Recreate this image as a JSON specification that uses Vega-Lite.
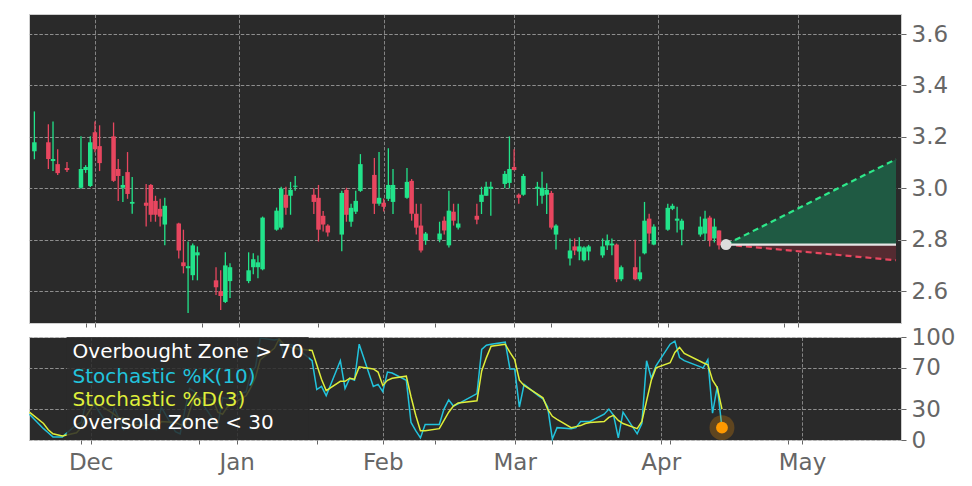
{
  "$schema": "https://vega.github.io/schema/vega-lite/v6.json",
  "background": "#ffffff",
  "padding": {"left": 25, "top": 13, "right": 5, "bottom": 5},
  "spacing": 14,
  "bounds": "flush",
  "datasets": {
    "px": [
      {"d": "2022-11-18", "o": 3.144, "h": 3.299, "l": 3.113, "c": 3.179},
      {"d": "2022-11-21", "o": 3.179, "h": 3.249, "l": 3.075, "c": 3.114},
      {"d": "2022-11-22", "o": 3.106, "h": 3.260, "l": 3.067, "c": 3.114},
      {"d": "2022-11-23", "o": 3.094, "h": 3.152, "l": 3.052, "c": 3.059},
      {"d": "2022-11-25", "o": 3.079, "h": 3.102, "l": 3.063, "c": 3.071},
      {"d": "2022-11-28", "o": 3.002, "h": 3.202, "l": 2.998, "c": 3.075},
      {"d": "2022-11-29", "o": 3.071, "h": 3.090, "l": 3.060, "c": 3.083},
      {"d": "2022-11-30", "o": 3.009, "h": 3.202, "l": 3.005, "c": 3.179},
      {"d": "2022-12-01", "o": 3.218, "h": 3.260, "l": 3.140, "c": 3.152},
      {"d": "2022-12-02", "o": 3.164, "h": 3.245, "l": 3.067, "c": 3.098},
      {"d": "2022-12-05", "o": 3.202, "h": 3.256, "l": 3.025, "c": 3.029},
      {"d": "2022-12-06", "o": 3.075, "h": 3.114, "l": 2.951, "c": 3.048},
      {"d": "2022-12-07", "o": 3.002, "h": 3.048, "l": 2.947, "c": 3.013},
      {"d": "2022-12-08", "o": 3.063, "h": 3.141, "l": 2.959, "c": 2.978},
      {"d": "2022-12-09", "o": 2.940, "h": 3.044, "l": 2.901, "c": 2.947},
      {"d": "2022-12-12", "o": 2.944, "h": 3.017, "l": 2.851, "c": 2.932},
      {"d": "2022-12-13", "o": 3.013, "h": 3.017, "l": 2.870, "c": 2.897},
      {"d": "2022-12-14", "o": 2.951, "h": 2.971, "l": 2.870, "c": 2.897},
      {"d": "2022-12-15", "o": 2.920, "h": 2.959, "l": 2.851, "c": 2.890},
      {"d": "2022-12-16", "o": 2.859, "h": 2.963, "l": 2.778, "c": 2.932},
      {"d": "2022-12-19", "o": 2.863, "h": 2.866, "l": 2.727, "c": 2.758},
      {"d": "2022-12-20", "o": 2.712, "h": 2.839, "l": 2.669, "c": 2.697},
      {"d": "2022-12-21", "o": 2.689, "h": 2.793, "l": 2.515, "c": 2.697},
      {"d": "2022-12-22", "o": 2.662, "h": 2.785, "l": 2.642, "c": 2.778},
      {"d": "2022-12-23", "o": 2.739, "h": 2.774, "l": 2.642, "c": 2.751},
      {"d": "2022-12-27", "o": 2.642, "h": 2.693, "l": 2.585, "c": 2.615},
      {"d": "2022-12-28", "o": 2.600, "h": 2.681, "l": 2.527, "c": 2.581},
      {"d": "2022-12-29", "o": 2.558, "h": 2.751, "l": 2.554, "c": 2.700},
      {"d": "2022-12-30", "o": 2.639, "h": 2.708, "l": 2.573, "c": 2.693},
      {"d": "2023-01-03", "o": 2.639, "h": 2.751, "l": 2.631, "c": 2.681},
      {"d": "2023-01-04", "o": 2.693, "h": 2.747, "l": 2.666, "c": 2.724},
      {"d": "2023-01-05", "o": 2.693, "h": 2.739, "l": 2.650, "c": 2.712},
      {"d": "2023-01-06", "o": 2.685, "h": 2.890, "l": 2.681, "c": 2.886},
      {"d": "2023-01-09", "o": 2.839, "h": 2.925, "l": 2.835, "c": 2.913},
      {"d": "2023-01-10", "o": 2.847, "h": 3.006, "l": 2.840, "c": 2.999},
      {"d": "2023-01-11", "o": 2.975, "h": 3.006, "l": 2.897, "c": 2.924},
      {"d": "2023-01-12", "o": 2.971, "h": 3.025, "l": 2.897, "c": 2.994},
      {"d": "2023-01-13", "o": 3.006, "h": 3.048, "l": 2.990, "c": 3.010},
      {"d": "2023-01-17", "o": 2.975, "h": 3.000, "l": 2.900, "c": 2.947},
      {"d": "2023-01-18", "o": 2.963, "h": 3.013, "l": 2.793, "c": 2.839},
      {"d": "2023-01-19", "o": 2.893, "h": 2.912, "l": 2.832, "c": 2.859},
      {"d": "2023-01-20", "o": 2.855, "h": 2.860, "l": 2.812, "c": 2.828},
      {"d": "2023-01-23", "o": 2.820, "h": 2.990, "l": 2.755, "c": 2.982},
      {"d": "2023-01-24", "o": 2.994, "h": 3.002, "l": 2.870, "c": 2.897},
      {"d": "2023-01-25", "o": 2.870, "h": 2.940, "l": 2.850, "c": 2.924},
      {"d": "2023-01-26", "o": 2.909, "h": 2.990, "l": 2.900, "c": 2.951},
      {"d": "2023-01-27", "o": 2.990, "h": 3.133, "l": 2.986, "c": 3.094},
      {"d": "2023-01-30", "o": 3.052, "h": 3.118, "l": 2.900, "c": 2.940},
      {"d": "2023-01-31", "o": 2.940, "h": 3.141, "l": 2.932, "c": 2.963},
      {"d": "2023-02-01", "o": 2.944, "h": 2.960, "l": 2.910, "c": 2.928},
      {"d": "2023-02-02", "o": 2.959, "h": 3.156, "l": 2.951, "c": 3.013},
      {"d": "2023-02-03", "o": 2.947, "h": 3.075, "l": 2.900, "c": 3.013},
      {"d": "2023-02-06", "o": 2.963, "h": 3.079, "l": 2.959, "c": 3.025},
      {"d": "2023-02-07", "o": 3.029, "h": 3.036, "l": 2.874, "c": 2.901},
      {"d": "2023-02-08", "o": 2.901, "h": 2.940, "l": 2.820, "c": 2.847},
      {"d": "2023-02-09", "o": 2.855, "h": 2.940, "l": 2.750, "c": 2.758},
      {"d": "2023-02-10", "o": 2.797, "h": 2.830, "l": 2.780, "c": 2.824},
      {"d": "2023-02-13", "o": 2.800, "h": 2.870, "l": 2.790, "c": 2.824},
      {"d": "2023-02-14", "o": 2.874, "h": 2.890, "l": 2.820, "c": 2.836},
      {"d": "2023-02-15", "o": 2.778, "h": 2.990, "l": 2.770, "c": 2.913},
      {"d": "2023-02-16", "o": 2.909, "h": 2.940, "l": 2.855, "c": 2.874},
      {"d": "2023-02-17", "o": 2.847, "h": 2.940, "l": 2.840, "c": 2.863},
      {"d": "2023-02-21", "o": 2.893, "h": 2.940, "l": 2.860, "c": 2.878},
      {"d": "2023-02-22", "o": 2.947, "h": 3.006, "l": 2.900, "c": 2.975},
      {"d": "2023-02-23", "o": 2.971, "h": 3.025, "l": 2.971, "c": 3.006},
      {"d": "2023-02-24", "o": 2.998, "h": 3.025, "l": 2.893, "c": 3.006},
      {"d": "2023-02-27", "o": 3.017, "h": 3.067, "l": 3.000, "c": 3.056},
      {"d": "2023-02-28", "o": 3.021, "h": 3.202, "l": 3.000, "c": 3.075},
      {"d": "2023-03-01", "o": 3.083, "h": 3.152, "l": 3.070, "c": 3.071},
      {"d": "2023-03-02", "o": 2.975, "h": 2.980, "l": 2.940, "c": 2.963},
      {"d": "2023-03-03", "o": 2.975, "h": 3.056, "l": 2.971, "c": 3.048},
      {"d": "2023-03-06", "o": 2.998, "h": 3.025, "l": 2.932, "c": 3.006},
      {"d": "2023-03-07", "o": 2.971, "h": 3.064, "l": 2.940, "c": 3.002},
      {"d": "2023-03-08", "o": 2.975, "h": 3.020, "l": 2.900, "c": 2.994},
      {"d": "2023-03-09", "o": 2.982, "h": 2.990, "l": 2.840, "c": 2.847},
      {"d": "2023-03-10", "o": 2.820, "h": 2.860, "l": 2.762, "c": 2.855},
      {"d": "2023-03-13", "o": 2.727, "h": 2.805, "l": 2.700, "c": 2.758},
      {"d": "2023-03-14", "o": 2.774, "h": 2.805, "l": 2.740, "c": 2.758},
      {"d": "2023-03-15", "o": 2.754, "h": 2.810, "l": 2.720, "c": 2.774},
      {"d": "2023-03-16", "o": 2.720, "h": 2.775, "l": 2.715, "c": 2.770},
      {"d": "2023-03-17", "o": 2.754, "h": 2.780, "l": 2.720, "c": 2.774},
      {"d": "2023-03-20", "o": 2.739, "h": 2.805, "l": 2.730, "c": 2.774},
      {"d": "2023-03-21", "o": 2.778, "h": 2.820, "l": 2.760, "c": 2.797},
      {"d": "2023-03-22", "o": 2.778, "h": 2.805, "l": 2.740, "c": 2.785},
      {"d": "2023-03-23", "o": 2.781, "h": 2.785, "l": 2.635, "c": 2.646},
      {"d": "2023-03-24", "o": 2.646, "h": 2.700, "l": 2.638, "c": 2.693},
      {"d": "2023-03-27", "o": 2.693, "h": 2.800, "l": 2.642, "c": 2.646},
      {"d": "2023-03-28", "o": 2.646, "h": 2.735, "l": 2.638, "c": 2.673},
      {"d": "2023-03-29", "o": 2.747, "h": 2.947, "l": 2.743, "c": 2.874},
      {"d": "2023-03-30", "o": 2.882, "h": 2.901, "l": 2.785, "c": 2.824},
      {"d": "2023-03-31", "o": 2.781, "h": 2.860, "l": 2.778, "c": 2.851},
      {"d": "2023-04-03", "o": 2.839, "h": 2.940, "l": 2.835, "c": 2.924},
      {"d": "2023-04-04", "o": 2.920, "h": 2.940, "l": 2.915, "c": 2.932},
      {"d": "2023-04-05", "o": 2.874, "h": 2.928, "l": 2.828, "c": 2.882},
      {"d": "2023-04-06", "o": 2.839, "h": 2.882, "l": 2.778, "c": 2.874},
      {"d": "2023-04-10", "o": 2.820, "h": 2.890, "l": 2.812, "c": 2.851},
      {"d": "2023-04-11", "o": 2.824, "h": 2.913, "l": 2.797, "c": 2.882},
      {"d": "2023-04-12", "o": 2.886, "h": 2.893, "l": 2.774, "c": 2.797},
      {"d": "2023-04-13", "o": 2.805, "h": 2.882, "l": 2.789, "c": 2.851},
      {"d": "2023-04-14", "o": 2.836, "h": 2.836, "l": 2.762, "c": 2.778}
    ],
    "st": [
      {"d": "2022-11-18", "k": 25, "dv": 27},
      {"d": "2022-11-21", "k": 11, "dv": 16},
      {"d": "2022-11-22", "k": 7, "dv": 10},
      {"d": "2022-11-23", "k": 3, "dv": 6},
      {"d": "2022-11-25", "k": 3, "dv": 4},
      {"d": "2022-11-28", "k": 15, "dv": 7},
      {"d": "2022-11-29", "k": 17, "dv": 12},
      {"d": "2022-11-30", "k": 36, "dv": 23},
      {"d": "2022-12-01", "k": 38, "dv": 30},
      {"d": "2022-12-02", "k": 33, "dv": 36},
      {"d": "2022-12-05", "k": 12, "dv": 28},
      {"d": "2022-12-06", "k": 31, "dv": 25},
      {"d": "2022-12-07", "k": 21, "dv": 21},
      {"d": "2022-12-08", "k": 10, "dv": 21},
      {"d": "2022-12-09", "k": 13, "dv": 15},
      {"d": "2022-12-12", "k": 20, "dv": 14},
      {"d": "2022-12-13", "k": 11, "dv": 15},
      {"d": "2022-12-14", "k": 11, "dv": 14},
      {"d": "2022-12-15", "k": 10, "dv": 11},
      {"d": "2022-12-16", "k": 32, "dv": 18},
      {"d": "2022-12-19", "k": 8, "dv": 17},
      {"d": "2022-12-20", "k": 6, "dv": 15},
      {"d": "2022-12-21", "k": 29, "dv": 14},
      {"d": "2022-12-22", "k": 50, "dv": 28},
      {"d": "2022-12-23", "k": 47, "dv": 42},
      {"d": "2022-12-27", "k": 20, "dv": 39},
      {"d": "2022-12-28", "k": 14, "dv": 27},
      {"d": "2022-12-29", "k": 41, "dv": 25},
      {"d": "2022-12-30", "k": 40, "dv": 32},
      {"d": "2023-01-03", "k": 47, "dv": 43},
      {"d": "2023-01-04", "k": 65, "dv": 51},
      {"d": "2023-01-05", "k": 71, "dv": 61},
      {"d": "2023-01-06", "k": 99, "dv": 78},
      {"d": "2023-01-09", "k": 97, "dv": 89},
      {"d": "2023-01-10", "k": 98, "dv": 98},
      {"d": "2023-01-11", "k": 83, "dv": 93},
      {"d": "2023-01-12", "k": 93, "dv": 91},
      {"d": "2023-01-13", "k": 92, "dv": 89},
      {"d": "2023-01-17", "k": 77, "dv": 87},
      {"d": "2023-01-18", "k": 49, "dv": 73},
      {"d": "2023-01-19", "k": 52, "dv": 59},
      {"d": "2023-01-20", "k": 43, "dv": 48},
      {"d": "2023-01-23", "k": 77, "dv": 57},
      {"d": "2023-01-24", "k": 50, "dv": 57},
      {"d": "2023-01-25", "k": 60, "dv": 60},
      {"d": "2023-01-26", "k": 58, "dv": 59},
      {"d": "2023-01-27", "k": 93, "dv": 71},
      {"d": "2023-01-30", "k": 52, "dv": 69},
      {"d": "2023-01-31", "k": 54, "dv": 66},
      {"d": "2023-02-01", "k": 47, "dv": 53},
      {"d": "2023-02-02", "k": 66, "dv": 58},
      {"d": "2023-02-03", "k": 65, "dv": 60},
      {"d": "2023-02-06", "k": 58, "dv": 62},
      {"d": "2023-02-07", "k": 17, "dv": 42},
      {"d": "2023-02-08", "k": 9, "dv": 24},
      {"d": "2023-02-09", "k": 2, "dv": 9},
      {"d": "2023-02-10", "k": 15, "dv": 9},
      {"d": "2023-02-13", "k": 15, "dv": 11},
      {"d": "2023-02-14", "k": 30, "dv": 19},
      {"d": "2023-02-15", "k": 39, "dv": 27},
      {"d": "2023-02-16", "k": 33, "dv": 33},
      {"d": "2023-02-17", "k": 35, "dv": 36},
      {"d": "2023-02-21", "k": 45, "dv": 38},
      {"d": "2023-02-22", "k": 88, "dv": 67},
      {"d": "2023-02-23", "k": 92, "dv": 80},
      {"d": "2023-02-24", "k": 93, "dv": 91},
      {"d": "2023-02-27", "k": 95, "dv": 93},
      {"d": "2023-02-28", "k": 69, "dv": 85},
      {"d": "2023-03-01", "k": 69, "dv": 78},
      {"d": "2023-03-02", "k": 32, "dv": 58},
      {"d": "2023-03-03", "k": 54, "dv": 53},
      {"d": "2023-03-06", "k": 43, "dv": 44},
      {"d": "2023-03-07", "k": 40, "dv": 41},
      {"d": "2023-03-08", "k": 32, "dv": 30},
      {"d": "2023-03-09", "k": 1, "dv": 23},
      {"d": "2023-03-10", "k": 12, "dv": 20},
      {"d": "2023-03-13", "k": 11, "dv": 12},
      {"d": "2023-03-14", "k": 12, "dv": 13},
      {"d": "2023-03-15", "k": 18, "dv": 14},
      {"d": "2023-03-16", "k": 18, "dv": 16},
      {"d": "2023-03-17", "k": 18, "dv": 17},
      {"d": "2023-03-20", "k": 25, "dv": 18},
      {"d": "2023-03-21", "k": 30, "dv": 22},
      {"d": "2023-03-22", "k": 24, "dv": 24},
      {"d": "2023-03-23", "k": 2, "dv": 19},
      {"d": "2023-03-24", "k": 27, "dv": 16},
      {"d": "2023-03-27", "k": 6, "dv": 11},
      {"d": "2023-03-28", "k": 16, "dv": 18},
      {"d": "2023-03-29", "k": 77, "dv": 38},
      {"d": "2023-03-30", "k": 60, "dv": 58},
      {"d": "2023-03-31", "k": 72, "dv": 70},
      {"d": "2023-04-03", "k": 93, "dv": 75},
      {"d": "2023-04-04", "k": 96, "dv": 85},
      {"d": "2023-04-05", "k": 80, "dv": 90},
      {"d": "2023-04-06", "k": 77, "dv": 84},
      {"d": "2023-04-10", "k": 70, "dv": 75},
      {"d": "2023-04-11", "k": 78, "dv": 73},
      {"d": "2023-04-12", "k": 26, "dv": 58},
      {"d": "2023-04-13", "k": 52, "dv": 51},
      {"d": "2023-04-14", "k": 12, "dv": 30}
    ],
    "fc": [
      {"d": "2023-04-15T12:00:00Z", "up": 2.781, "mid": 2.781, "dn": 2.781},
      {"d": "2023-05-22T00:00:00Z", "up": 3.113, "mid": 2.781, "dn": 2.720}
    ]
  },
  "vconcat": [
    {
      "width": 872,
      "height": 309,
      "layer": [
        {
          "data": {"name": "px"},
          "mark": {"type": "rule", "strokeWidth": 1.3, "clip": true},
          "encoding": {
            "x": {"field": "d", "type": "temporal", "title": null,
              "scale": {"type": "utc", "domain": [{"year": 2022, "month": 11, "date": 17, "hours": 22, "utc": true}, {"year": 2023, "month": 5, "date": 22, "hours": 0, "utc": true}]},
              "axis": {"labels": false, "tickSize": 4, "grid": true, "gridOpacity": {"condition": {"test": "utcdate(datum.value) == 1", "value": 0.9}, "value": 0}, "values": [{"year": 2022, "month": 11, "date": 29, "utc": true}, {"year": 2022, "month": 12, "date": 1, "utc": true}, {"year": 2022, "month": 12, "date": 24, "utc": true}, {"year": 2023, "month": 1, "date": 1, "utc": true}, {"year": 2023, "month": 1, "date": 18, "utc": true}, {"year": 2023, "month": 2, "date": 1, "utc": true}, {"year": 2023, "month": 2, "date": 12, "utc": true}, {"year": 2023, "month": 3, "date": 1, "utc": true}, {"year": 2023, "month": 3, "date": 9, "utc": true}, {"year": 2023, "month": 4, "date": 1, "utc": true}, {"year": 2023, "month": 4, "date": 3, "utc": true}, {"year": 2023, "month": 4, "date": 28, "utc": true}, {"year": 2023, "month": 5, "date": 1, "utc": true}]}},
            "y": {"field": "l", "type": "quantitative", "title": null,
              "scale": {"domain": [2.476, 3.678], "nice": false, "zero": false},
              "axis": {"orient": "right", "values": [2.6, 2.8, 3.0, 3.2, 3.4, 3.6], "format": ".1f", "tickSize": 5, "labelPadding": 5}},
            "y2": {"field": "h"},
            "color": {"condition": {"test": "datum.c >= datum.o", "value": "#22e38a"}, "value": "#e8465f"}
          }
        },
        {
          "data": {"name": "px"},
          "mark": {"type": "bar", "size": 4.5, "clip": true},
          "encoding": {
            "x": {"field": "d", "type": "temporal", "title": null,
              "axis": {"labels": false, "tickSize": 4, "grid": true, "gridOpacity": {"condition": {"test": "utcdate(datum.value) == 1", "value": 0.9}, "value": 0}, "values": [{"year": 2022, "month": 11, "date": 29, "utc": true}, {"year": 2022, "month": 12, "date": 1, "utc": true}, {"year": 2022, "month": 12, "date": 24, "utc": true}, {"year": 2023, "month": 1, "date": 1, "utc": true}, {"year": 2023, "month": 1, "date": 18, "utc": true}, {"year": 2023, "month": 2, "date": 1, "utc": true}, {"year": 2023, "month": 2, "date": 12, "utc": true}, {"year": 2023, "month": 3, "date": 1, "utc": true}, {"year": 2023, "month": 3, "date": 9, "utc": true}, {"year": 2023, "month": 4, "date": 1, "utc": true}, {"year": 2023, "month": 4, "date": 3, "utc": true}, {"year": 2023, "month": 4, "date": 28, "utc": true}, {"year": 2023, "month": 5, "date": 1, "utc": true}]}},
            "y": {"field": "o", "type": "quantitative", "title": null,
              "axis": {"orient": "right", "values": [2.6, 2.8, 3.0, 3.2, 3.4, 3.6], "format": ".1f", "tickSize": 5, "labelPadding": 5}},
            "y2": {"field": "c"},
            "color": {"condition": {"test": "datum.c >= datum.o", "value": "#22e38a"}, "value": "#e8465f"}
          }
        },
        {
          "data": {"name": "fc"},
          "mark": {"type": "area", "color": "#1f5a43", "opacity": 1},
          "encoding": {
            "x": {"field": "d", "type": "temporal", "title": null,
              "axis": {"labels": false, "tickSize": 4, "grid": true, "gridOpacity": {"condition": {"test": "utcdate(datum.value) == 1", "value": 0.9}, "value": 0}, "values": [{"year": 2022, "month": 11, "date": 29, "utc": true}, {"year": 2022, "month": 12, "date": 1, "utc": true}, {"year": 2022, "month": 12, "date": 24, "utc": true}, {"year": 2023, "month": 1, "date": 1, "utc": true}, {"year": 2023, "month": 1, "date": 18, "utc": true}, {"year": 2023, "month": 2, "date": 1, "utc": true}, {"year": 2023, "month": 2, "date": 12, "utc": true}, {"year": 2023, "month": 3, "date": 1, "utc": true}, {"year": 2023, "month": 3, "date": 9, "utc": true}, {"year": 2023, "month": 4, "date": 1, "utc": true}, {"year": 2023, "month": 4, "date": 3, "utc": true}, {"year": 2023, "month": 4, "date": 28, "utc": true}, {"year": 2023, "month": 5, "date": 1, "utc": true}]}},
            "y": {"field": "up", "type": "quantitative", "title": null,
              "axis": {"orient": "right", "values": [2.6, 2.8, 3.0, 3.2, 3.4, 3.6], "format": ".1f", "tickSize": 5, "labelPadding": 5}},
            "y2": {"field": "mid"}
          }
        },
        {
          "data": {"name": "fc"},
          "mark": {"type": "area", "color": "#552b31", "opacity": 1},
          "encoding": {
            "x": {"field": "d", "type": "temporal", "title": null,
              "axis": {"labels": false, "tickSize": 4, "grid": true, "gridOpacity": {"condition": {"test": "utcdate(datum.value) == 1", "value": 0.9}, "value": 0}, "values": [{"year": 2022, "month": 11, "date": 29, "utc": true}, {"year": 2022, "month": 12, "date": 1, "utc": true}, {"year": 2022, "month": 12, "date": 24, "utc": true}, {"year": 2023, "month": 1, "date": 1, "utc": true}, {"year": 2023, "month": 1, "date": 18, "utc": true}, {"year": 2023, "month": 2, "date": 1, "utc": true}, {"year": 2023, "month": 2, "date": 12, "utc": true}, {"year": 2023, "month": 3, "date": 1, "utc": true}, {"year": 2023, "month": 3, "date": 9, "utc": true}, {"year": 2023, "month": 4, "date": 1, "utc": true}, {"year": 2023, "month": 4, "date": 3, "utc": true}, {"year": 2023, "month": 4, "date": 28, "utc": true}, {"year": 2023, "month": 5, "date": 1, "utc": true}]}},
            "y": {"field": "mid", "type": "quantitative", "title": null,
              "axis": {"orient": "right", "values": [2.6, 2.8, 3.0, 3.2, 3.4, 3.6], "format": ".1f", "tickSize": 5, "labelPadding": 5}},
            "y2": {"field": "dn"}
          }
        },
        {
          "data": {"name": "fc"},
          "mark": {"type": "line", "color": "#2ee88a", "strokeWidth": 2.2, "strokeDash": [6, 4]},
          "encoding": {
            "x": {"field": "d", "type": "temporal", "title": null,
              "axis": {"labels": false, "tickSize": 4, "grid": true, "gridOpacity": {"condition": {"test": "utcdate(datum.value) == 1", "value": 0.9}, "value": 0}, "values": [{"year": 2022, "month": 11, "date": 29, "utc": true}, {"year": 2022, "month": 12, "date": 1, "utc": true}, {"year": 2022, "month": 12, "date": 24, "utc": true}, {"year": 2023, "month": 1, "date": 1, "utc": true}, {"year": 2023, "month": 1, "date": 18, "utc": true}, {"year": 2023, "month": 2, "date": 1, "utc": true}, {"year": 2023, "month": 2, "date": 12, "utc": true}, {"year": 2023, "month": 3, "date": 1, "utc": true}, {"year": 2023, "month": 3, "date": 9, "utc": true}, {"year": 2023, "month": 4, "date": 1, "utc": true}, {"year": 2023, "month": 4, "date": 3, "utc": true}, {"year": 2023, "month": 4, "date": 28, "utc": true}, {"year": 2023, "month": 5, "date": 1, "utc": true}]}},
            "y": {"field": "up", "type": "quantitative", "title": null,
              "axis": {"orient": "right", "values": [2.6, 2.8, 3.0, 3.2, 3.4, 3.6], "format": ".1f", "tickSize": 5, "labelPadding": 5}}
          }
        },
        {
          "data": {"name": "fc"},
          "mark": {"type": "line", "color": "#e8465f", "strokeWidth": 2.2, "strokeDash": [6, 4]},
          "encoding": {
            "x": {"field": "d", "type": "temporal", "title": null,
              "axis": {"labels": false, "tickSize": 4, "grid": true, "gridOpacity": {"condition": {"test": "utcdate(datum.value) == 1", "value": 0.9}, "value": 0}, "values": [{"year": 2022, "month": 11, "date": 29, "utc": true}, {"year": 2022, "month": 12, "date": 1, "utc": true}, {"year": 2022, "month": 12, "date": 24, "utc": true}, {"year": 2023, "month": 1, "date": 1, "utc": true}, {"year": 2023, "month": 1, "date": 18, "utc": true}, {"year": 2023, "month": 2, "date": 1, "utc": true}, {"year": 2023, "month": 2, "date": 12, "utc": true}, {"year": 2023, "month": 3, "date": 1, "utc": true}, {"year": 2023, "month": 3, "date": 9, "utc": true}, {"year": 2023, "month": 4, "date": 1, "utc": true}, {"year": 2023, "month": 4, "date": 3, "utc": true}, {"year": 2023, "month": 4, "date": 28, "utc": true}, {"year": 2023, "month": 5, "date": 1, "utc": true}]}},
            "y": {"field": "dn", "type": "quantitative", "title": null,
              "axis": {"orient": "right", "values": [2.6, 2.8, 3.0, 3.2, 3.4, 3.6], "format": ".1f", "tickSize": 5, "labelPadding": 5}}
          }
        },
        {
          "data": {"name": "fc"},
          "mark": {"type": "line", "color": "#e6e6e6", "strokeWidth": 2.2},
          "encoding": {
            "x": {"field": "d", "type": "temporal", "title": null,
              "axis": {"labels": false, "tickSize": 4, "grid": true, "gridOpacity": {"condition": {"test": "utcdate(datum.value) == 1", "value": 0.9}, "value": 0}, "values": [{"year": 2022, "month": 11, "date": 29, "utc": true}, {"year": 2022, "month": 12, "date": 1, "utc": true}, {"year": 2022, "month": 12, "date": 24, "utc": true}, {"year": 2023, "month": 1, "date": 1, "utc": true}, {"year": 2023, "month": 1, "date": 18, "utc": true}, {"year": 2023, "month": 2, "date": 1, "utc": true}, {"year": 2023, "month": 2, "date": 12, "utc": true}, {"year": 2023, "month": 3, "date": 1, "utc": true}, {"year": 2023, "month": 3, "date": 9, "utc": true}, {"year": 2023, "month": 4, "date": 1, "utc": true}, {"year": 2023, "month": 4, "date": 3, "utc": true}, {"year": 2023, "month": 4, "date": 28, "utc": true}, {"year": 2023, "month": 5, "date": 1, "utc": true}]}},
            "y": {"field": "mid", "type": "quantitative", "title": null,
              "axis": {"orient": "right", "values": [2.6, 2.8, 3.0, 3.2, 3.4, 3.6], "format": ".1f", "tickSize": 5, "labelPadding": 5}}
          }
        },
        {
          "data": {"values": [{}]},
          "mark": {"type": "point", "filled": true, "opacity": 1, "size": 120, "color": "#dcdcdc"},
          "encoding": {
            "x": {"datum": {"year": 2023, "month": 4, "date": 15, "hours": 12, "utc": true}, "type": "temporal", "title": null,
              "axis": {"labels": false, "tickSize": 4, "grid": true, "gridOpacity": {"condition": {"test": "utcdate(datum.value) == 1", "value": 0.9}, "value": 0}, "values": [{"year": 2022, "month": 11, "date": 29, "utc": true}, {"year": 2022, "month": 12, "date": 1, "utc": true}, {"year": 2022, "month": 12, "date": 24, "utc": true}, {"year": 2023, "month": 1, "date": 1, "utc": true}, {"year": 2023, "month": 1, "date": 18, "utc": true}, {"year": 2023, "month": 2, "date": 1, "utc": true}, {"year": 2023, "month": 2, "date": 12, "utc": true}, {"year": 2023, "month": 3, "date": 1, "utc": true}, {"year": 2023, "month": 3, "date": 9, "utc": true}, {"year": 2023, "month": 4, "date": 1, "utc": true}, {"year": 2023, "month": 4, "date": 3, "utc": true}, {"year": 2023, "month": 4, "date": 28, "utc": true}, {"year": 2023, "month": 5, "date": 1, "utc": true}]}},
            "y": {"datum": 2.781, "type": "quantitative", "title": null,
              "axis": {"orient": "right", "values": [2.6, 2.8, 3.0, 3.2, 3.4, 3.6], "format": ".1f", "tickSize": 5, "labelPadding": 5}}
          }
        }
      ]
    },
    {
      "width": 872,
      "height": 103,
      "layer": [
        {
          "data": {"name": "st"},
          "mark": {"type": "line", "color": "#22c3dc", "strokeWidth": 1.5},
          "encoding": {
            "x": {"field": "d", "type": "temporal", "title": null,
              "scale": {"type": "utc", "domain": [{"year": 2022, "month": 11, "date": 17, "hours": 22, "utc": true}, {"year": 2023, "month": 5, "date": 22, "hours": 0, "utc": true}]},
              "axis": {"labelExpr": "utcdate(datum.value) == 1 ? utcFormat(datum.value, '%b') : ''", "tickSize": 4, "labelPadding": 7, "grid": true, "gridOpacity": {"condition": {"test": "utcdate(datum.value) == 1", "value": 0.9}, "value": 0}, "values": [{"year": 2022, "month": 11, "date": 29, "utc": true}, {"year": 2022, "month": 12, "date": 1, "utc": true}, {"year": 2022, "month": 12, "date": 24, "utc": true}, {"year": 2023, "month": 1, "date": 1, "utc": true}, {"year": 2023, "month": 1, "date": 18, "utc": true}, {"year": 2023, "month": 2, "date": 1, "utc": true}, {"year": 2023, "month": 2, "date": 12, "utc": true}, {"year": 2023, "month": 3, "date": 1, "utc": true}, {"year": 2023, "month": 3, "date": 9, "utc": true}, {"year": 2023, "month": 4, "date": 1, "utc": true}, {"year": 2023, "month": 4, "date": 3, "utc": true}, {"year": 2023, "month": 4, "date": 28, "utc": true}, {"year": 2023, "month": 5, "date": 1, "utc": true}]}},
            "y": {"field": "k", "type": "quantitative", "title": null,
              "scale": {"domain": [0, 100], "nice": false},
              "axis": {"orient": "right", "values": [0, 30, 70, 100], "tickSize": 5, "labelPadding": 5}}
          }
        },
        {
          "data": {"name": "st"},
          "mark": {"type": "line", "color": "#dfee3a", "strokeWidth": 1.5},
          "encoding": {
            "x": {"field": "d", "type": "temporal", "title": null,
              "axis": {"labelExpr": "utcdate(datum.value) == 1 ? utcFormat(datum.value, '%b') : ''", "tickSize": 4, "labelPadding": 7, "grid": true, "gridOpacity": {"condition": {"test": "utcdate(datum.value) == 1", "value": 0.9}, "value": 0}, "values": [{"year": 2022, "month": 11, "date": 29, "utc": true}, {"year": 2022, "month": 12, "date": 1, "utc": true}, {"year": 2022, "month": 12, "date": 24, "utc": true}, {"year": 2023, "month": 1, "date": 1, "utc": true}, {"year": 2023, "month": 1, "date": 18, "utc": true}, {"year": 2023, "month": 2, "date": 1, "utc": true}, {"year": 2023, "month": 2, "date": 12, "utc": true}, {"year": 2023, "month": 3, "date": 1, "utc": true}, {"year": 2023, "month": 3, "date": 9, "utc": true}, {"year": 2023, "month": 4, "date": 1, "utc": true}, {"year": 2023, "month": 4, "date": 3, "utc": true}, {"year": 2023, "month": 4, "date": 28, "utc": true}, {"year": 2023, "month": 5, "date": 1, "utc": true}]}},
            "y": {"field": "dv", "type": "quantitative", "title": null,
              "axis": {"orient": "right", "values": [0, 30, 70, 100], "tickSize": 5, "labelPadding": 5}}
          }
        },
        {
          "data": {"values": [{}]},
          "mark": {"type": "rect", "color": "#2a2a2a", "opacity": 0.85},
          "encoding": {
            "x": {"datum": {"year": 2022, "month": 11, "date": 25, "hours": 22, "utc": true}, "type": "temporal", "title": null,
              "axis": {"labelExpr": "utcdate(datum.value) == 1 ? utcFormat(datum.value, '%b') : ''", "tickSize": 4, "labelPadding": 7, "grid": true, "gridOpacity": {"condition": {"test": "utcdate(datum.value) == 1", "value": 0.9}, "value": 0}, "values": [{"year": 2022, "month": 11, "date": 29, "utc": true}, {"year": 2022, "month": 12, "date": 1, "utc": true}, {"year": 2022, "month": 12, "date": 24, "utc": true}, {"year": 2023, "month": 1, "date": 1, "utc": true}, {"year": 2023, "month": 1, "date": 18, "utc": true}, {"year": 2023, "month": 2, "date": 1, "utc": true}, {"year": 2023, "month": 2, "date": 12, "utc": true}, {"year": 2023, "month": 3, "date": 1, "utc": true}, {"year": 2023, "month": 3, "date": 9, "utc": true}, {"year": 2023, "month": 4, "date": 1, "utc": true}, {"year": 2023, "month": 4, "date": 3, "utc": true}, {"year": 2023, "month": 4, "date": 28, "utc": true}, {"year": 2023, "month": 5, "date": 1, "utc": true}]}},
            "x2": {"datum": {"year": 2023, "month": 1, "date": 16, "hours": 7, "utc": true}},
            "y": {"datum": 0, "type": "quantitative", "title": null,
              "axis": {"orient": "right", "values": [0, 30, 70, 100], "tickSize": 5, "labelPadding": 5}},
            "y2": {"datum": 100}
          }
        },
        {
          "data": {"values": [{"t": "Overbought Zone > 70"}]},
          "mark": {"type": "text", "align": "left", "baseline": "middle", "fontSize": 20, "color": "#ffffff"},
          "encoding": {
            "x": {"datum": {"year": 2022, "month": 11, "date": 27, "hours": 4, "utc": true}, "type": "temporal", "title": null,
              "axis": {"labelExpr": "utcdate(datum.value) == 1 ? utcFormat(datum.value, '%b') : ''", "tickSize": 4, "labelPadding": 7, "grid": true, "gridOpacity": {"condition": {"test": "utcdate(datum.value) == 1", "value": 0.9}, "value": 0}, "values": [{"year": 2022, "month": 11, "date": 29, "utc": true}, {"year": 2022, "month": 12, "date": 1, "utc": true}, {"year": 2022, "month": 12, "date": 24, "utc": true}, {"year": 2023, "month": 1, "date": 1, "utc": true}, {"year": 2023, "month": 1, "date": 18, "utc": true}, {"year": 2023, "month": 2, "date": 1, "utc": true}, {"year": 2023, "month": 2, "date": 12, "utc": true}, {"year": 2023, "month": 3, "date": 1, "utc": true}, {"year": 2023, "month": 3, "date": 9, "utc": true}, {"year": 2023, "month": 4, "date": 1, "utc": true}, {"year": 2023, "month": 4, "date": 3, "utc": true}, {"year": 2023, "month": 4, "date": 28, "utc": true}, {"year": 2023, "month": 5, "date": 1, "utc": true}]}},
            "y": {"datum": 85.7, "type": "quantitative", "title": null,
              "axis": {"orient": "right", "values": [0, 30, 70, 100], "tickSize": 5, "labelPadding": 5}},
            "text": {"field": "t"}
          }
        },
        {
          "data": {"values": [{"t": "Stochastic %K(10)"}]},
          "mark": {"type": "text", "align": "left", "baseline": "middle", "fontSize": 20, "color": "#22c3dc"},
          "encoding": {
            "x": {"datum": {"year": 2022, "month": 11, "date": 27, "hours": 4, "utc": true}, "type": "temporal", "title": null,
              "axis": {"labelExpr": "utcdate(datum.value) == 1 ? utcFormat(datum.value, '%b') : ''", "tickSize": 4, "labelPadding": 7, "grid": true, "gridOpacity": {"condition": {"test": "utcdate(datum.value) == 1", "value": 0.9}, "value": 0}, "values": [{"year": 2022, "month": 11, "date": 29, "utc": true}, {"year": 2022, "month": 12, "date": 1, "utc": true}, {"year": 2022, "month": 12, "date": 24, "utc": true}, {"year": 2023, "month": 1, "date": 1, "utc": true}, {"year": 2023, "month": 1, "date": 18, "utc": true}, {"year": 2023, "month": 2, "date": 1, "utc": true}, {"year": 2023, "month": 2, "date": 12, "utc": true}, {"year": 2023, "month": 3, "date": 1, "utc": true}, {"year": 2023, "month": 3, "date": 9, "utc": true}, {"year": 2023, "month": 4, "date": 1, "utc": true}, {"year": 2023, "month": 4, "date": 3, "utc": true}, {"year": 2023, "month": 4, "date": 28, "utc": true}, {"year": 2023, "month": 5, "date": 1, "utc": true}]}},
            "y": {"datum": 61.2, "type": "quantitative", "title": null,
              "axis": {"orient": "right", "values": [0, 30, 70, 100], "tickSize": 5, "labelPadding": 5}},
            "text": {"field": "t"}
          }
        },
        {
          "data": {"values": [{"t": "Stochastic %D(3)"}]},
          "mark": {"type": "text", "align": "left", "baseline": "middle", "fontSize": 20, "color": "#dfee3a"},
          "encoding": {
            "x": {"datum": {"year": 2022, "month": 11, "date": 27, "hours": 4, "utc": true}, "type": "temporal", "title": null,
              "axis": {"labelExpr": "utcdate(datum.value) == 1 ? utcFormat(datum.value, '%b') : ''", "tickSize": 4, "labelPadding": 7, "grid": true, "gridOpacity": {"condition": {"test": "utcdate(datum.value) == 1", "value": 0.9}, "value": 0}, "values": [{"year": 2022, "month": 11, "date": 29, "utc": true}, {"year": 2022, "month": 12, "date": 1, "utc": true}, {"year": 2022, "month": 12, "date": 24, "utc": true}, {"year": 2023, "month": 1, "date": 1, "utc": true}, {"year": 2023, "month": 1, "date": 18, "utc": true}, {"year": 2023, "month": 2, "date": 1, "utc": true}, {"year": 2023, "month": 2, "date": 12, "utc": true}, {"year": 2023, "month": 3, "date": 1, "utc": true}, {"year": 2023, "month": 3, "date": 9, "utc": true}, {"year": 2023, "month": 4, "date": 1, "utc": true}, {"year": 2023, "month": 4, "date": 3, "utc": true}, {"year": 2023, "month": 4, "date": 28, "utc": true}, {"year": 2023, "month": 5, "date": 1, "utc": true}]}},
            "y": {"datum": 39.1, "type": "quantitative", "title": null,
              "axis": {"orient": "right", "values": [0, 30, 70, 100], "tickSize": 5, "labelPadding": 5}},
            "text": {"field": "t"}
          }
        },
        {
          "data": {"values": [{"t": "Oversold Zone < 30"}]},
          "mark": {"type": "text", "align": "left", "baseline": "middle", "fontSize": 20, "color": "#ffffff"},
          "encoding": {
            "x": {"datum": {"year": 2022, "month": 11, "date": 27, "hours": 4, "utc": true}, "type": "temporal", "title": null,
              "axis": {"labelExpr": "utcdate(datum.value) == 1 ? utcFormat(datum.value, '%b') : ''", "tickSize": 4, "labelPadding": 7, "grid": true, "gridOpacity": {"condition": {"test": "utcdate(datum.value) == 1", "value": 0.9}, "value": 0}, "values": [{"year": 2022, "month": 11, "date": 29, "utc": true}, {"year": 2022, "month": 12, "date": 1, "utc": true}, {"year": 2022, "month": 12, "date": 24, "utc": true}, {"year": 2023, "month": 1, "date": 1, "utc": true}, {"year": 2023, "month": 1, "date": 18, "utc": true}, {"year": 2023, "month": 2, "date": 1, "utc": true}, {"year": 2023, "month": 2, "date": 12, "utc": true}, {"year": 2023, "month": 3, "date": 1, "utc": true}, {"year": 2023, "month": 3, "date": 9, "utc": true}, {"year": 2023, "month": 4, "date": 1, "utc": true}, {"year": 2023, "month": 4, "date": 3, "utc": true}, {"year": 2023, "month": 4, "date": 28, "utc": true}, {"year": 2023, "month": 5, "date": 1, "utc": true}]}},
            "y": {"datum": 16.5, "type": "quantitative", "title": null,
              "axis": {"orient": "right", "values": [0, 30, 70, 100], "tickSize": 5, "labelPadding": 5}},
            "text": {"field": "t"}
          }
        },
        {
          "data": {"name": "st"},
          "transform": [{"filter": "datum.d > datetime(2023, 3, 13)"}],
          "mark": {"type": "point", "filled": true, "opacity": 0.25, "size": 620, "color": "#ff9900"},
          "encoding": {
            "x": {"field": "d", "type": "temporal", "title": null,
              "axis": {"labelExpr": "utcdate(datum.value) == 1 ? utcFormat(datum.value, '%b') : ''", "tickSize": 4, "labelPadding": 7, "grid": true, "gridOpacity": {"condition": {"test": "utcdate(datum.value) == 1", "value": 0.9}, "value": 0}, "values": [{"year": 2022, "month": 11, "date": 29, "utc": true}, {"year": 2022, "month": 12, "date": 1, "utc": true}, {"year": 2022, "month": 12, "date": 24, "utc": true}, {"year": 2023, "month": 1, "date": 1, "utc": true}, {"year": 2023, "month": 1, "date": 18, "utc": true}, {"year": 2023, "month": 2, "date": 1, "utc": true}, {"year": 2023, "month": 2, "date": 12, "utc": true}, {"year": 2023, "month": 3, "date": 1, "utc": true}, {"year": 2023, "month": 3, "date": 9, "utc": true}, {"year": 2023, "month": 4, "date": 1, "utc": true}, {"year": 2023, "month": 4, "date": 3, "utc": true}, {"year": 2023, "month": 4, "date": 28, "utc": true}, {"year": 2023, "month": 5, "date": 1, "utc": true}]}},
            "y": {"field": "k", "type": "quantitative", "title": null,
              "axis": {"orient": "right", "values": [0, 30, 70, 100], "tickSize": 5, "labelPadding": 5}}
          }
        },
        {
          "data": {"name": "st"},
          "transform": [{"filter": "datum.d > datetime(2023, 3, 13)"}],
          "mark": {"type": "point", "filled": true, "opacity": 1, "size": 140, "color": "#ff9900"},
          "encoding": {
            "x": {"field": "d", "type": "temporal", "title": null,
              "axis": {"labelExpr": "utcdate(datum.value) == 1 ? utcFormat(datum.value, '%b') : ''", "tickSize": 4, "labelPadding": 7, "grid": true, "gridOpacity": {"condition": {"test": "utcdate(datum.value) == 1", "value": 0.9}, "value": 0}, "values": [{"year": 2022, "month": 11, "date": 29, "utc": true}, {"year": 2022, "month": 12, "date": 1, "utc": true}, {"year": 2022, "month": 12, "date": 24, "utc": true}, {"year": 2023, "month": 1, "date": 1, "utc": true}, {"year": 2023, "month": 1, "date": 18, "utc": true}, {"year": 2023, "month": 2, "date": 1, "utc": true}, {"year": 2023, "month": 2, "date": 12, "utc": true}, {"year": 2023, "month": 3, "date": 1, "utc": true}, {"year": 2023, "month": 3, "date": 9, "utc": true}, {"year": 2023, "month": 4, "date": 1, "utc": true}, {"year": 2023, "month": 4, "date": 3, "utc": true}, {"year": 2023, "month": 4, "date": 28, "utc": true}, {"year": 2023, "month": 5, "date": 1, "utc": true}]}},
            "y": {"field": "k", "type": "quantitative", "title": null,
              "axis": {"orient": "right", "values": [0, 30, 70, 100], "tickSize": 5, "labelPadding": 5}}
          }
        }
      ]
    }
  ],
  "config": {
    "font": "DejaVu Sans",
    "view": {"fill": "#2a2a2a", "stroke": "#cfcfcf", "strokeWidth": 1},
    "axis": {
      "domain": false,
      "gridColor": "#a8a8a8",
      "gridDash": [3.5, 1.8],
      "gridWidth": 0.8,
      "labelColor": "#666666",
      "labelFont": "DejaVu Sans",
      "labelFontSize": 23,
      "tickColor": "#666666",
      "tickWidth": 1
    }
  }
}
